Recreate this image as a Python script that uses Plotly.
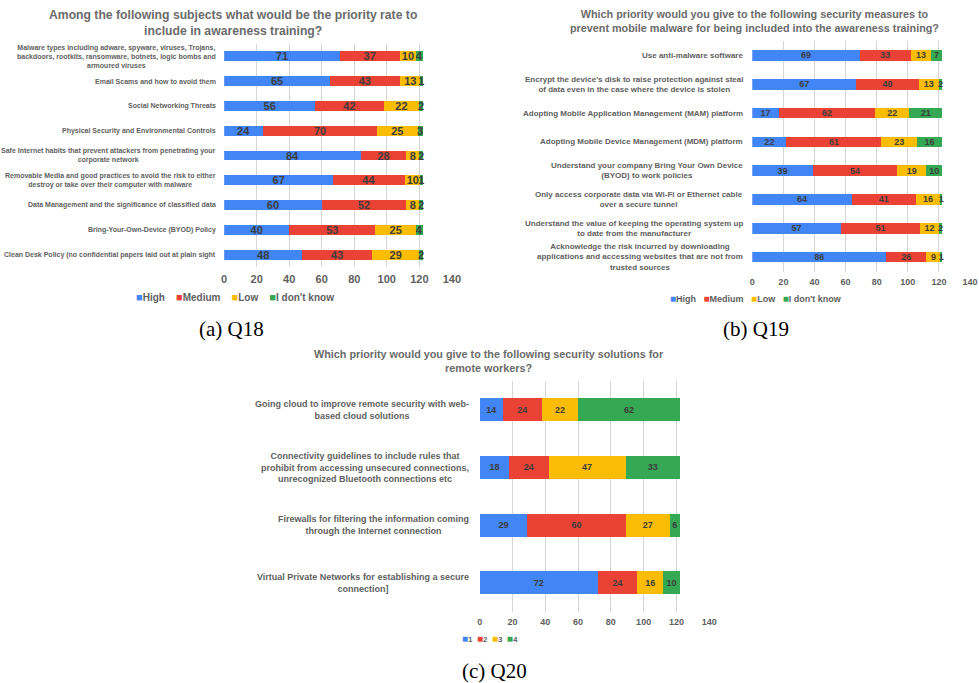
import plotly.graph_objects as go

# ---------------- data ----------------
q18_title = "Among the following subjects what would be the priority rate to<br>include in awareness training?"
q18_labels = [
    "Malware types including adware, spyware, viruses, Trojans,<br>backdoors, rootkits, ransomware, botnets, logic bombs and<br>armoured viruses",
    "Email Scams and how to avoid them",
    "Social Networking Threats",
    "Physical Security and Environmental Controls",
    "Safe Internet habits that prevent attackers from penetrating your<br>corporate network",
    "Removable Media and good practices to avoid the risk to either<br>destroy or take over their computer with malware",
    "Data Management and the significance of classified data",
    "Bring-Your-Own-Device (BYOD) Policy",
    "Clean Desk Policy (no confidential papers laid out at plain sight",
]
q18_series = ["High", "Medium", "Low", "I don't know"]
q18_high = [71, 65, 56, 24, 84, 67, 60, 40, 48]
q18_medium = [37, 43, 42, 70, 28, 44, 52, 53, 43]
q18_low = [10, 13, 22, 25, 8, 10, 8, 25, 29]
q18_idk = [4, 1, 2, 3, 2, 1, 2, 4, 2]

q19_title = "Which priority would you give to the following security measures to<br>prevent mobile malware for being included into the awareness training?"
q19_labels = [
    "Use anti-malware software",
    "Encrypt the device's disk to raise protection against steal<br>of data even in the case where the device is stolen",
    "Adopting Mobile Application Management (MAM) platform",
    "Adopting Mobile Device Management (MDM) platform",
    "Understand your company Bring Your Own Device<br>(BYOD) to work policies",
    "Only access corporate data via Wi-Fi or Ethernet cable<br>over a secure tunnel",
    "Understand the value of keeping the operating system up<br>to date from the manufacturer",
    "Acknowledge the risk incurred by downloading<br>applications and accessing websites that are not from<br>trusted sources",
]
q19_series = ["High", "Medium", "Low", "I don't know"]
q19_high = [69, 67, 17, 22, 39, 64, 57, 86]
q19_medium = [33, 40, 62, 61, 54, 41, 51, 26]
q19_low = [13, 13, 22, 23, 19, 16, 12, 9]
q19_idk = [7, 2, 21, 16, 10, 1, 2, 1]

q20_title = "Which priority would you give to the following security solutions for<br>remote workers?"
q20_labels = [
    "Going cloud to improve remote security with web-<br>based cloud solutions",
    "Connectivity guidelines to include rules that<br>prohibit from accessing unsecured connections,<br>unrecognized Bluetooth connections etc",
    "Firewalls for filtering the information coming<br>through the Internet connection",
    "Virtual Private Networks for establishing a secure<br>connection]",
]
q20_series = ["1", "2", "3", "4"]
q20_s1 = [14, 18, 29, 72]
q20_s2 = [24, 24, 60, 24]
q20_s3 = [22, 47, 27, 16]
q20_s4 = [62, 33, 6, 10]

x_ticks = [0, 20, 40, 60, 80, 100, 120, 140]
captions = ["(a) Q18", "(b) Q19", "(c) Q20"]

# ---------------- style ----------------
W, H = 979, 683
COLORS = ["#4285F4", "#EA4335", "#FBBC04", "#34A853"]
FONT = "Arial, Liberation Sans, sans-serif"
LBL = "#5f5f5f"
TTL = "#6b6b6b"
VAL = "#3d3d3d"
XS, XB = 0.987, 3.0   # horizontal calibration of the photographed page

def px(x):
    return (x - XB) / XS / W

def py(y):
    return 1 - y / H

fig = go.Figure()

panels = [
    dict(labels=q18_labels, series=q18_series, vals=[q18_high, q18_medium, q18_low, q18_idk],
         xa="x", ya="y", width=0.4, vsize=11),
    dict(labels=q19_labels, series=q19_series, vals=[q19_high, q19_medium, q19_low, q19_idk],
         xa="x2", ya="y2", width=0.37, vsize=9),
    dict(labels=q20_labels, series=q20_series, vals=[q20_s1, q20_s2, q20_s3, q20_s4],
         xa="x3", ya="y3", width=0.4, vsize=9),
]

for p in panels:
    for i, (name, v) in enumerate(zip(p["series"], p["vals"])):
        fig.add_trace(go.Bar(
            x=v, y=p["labels"], orientation="h", name=name,
            xaxis=p["xa"], yaxis=p["ya"], width=p["width"],
            marker=dict(color=COLORS[i], line=dict(width=0)),
            text=[str(t) for t in v], textposition="inside", insidetextanchor="middle",
            constraintext="none", textangle=0,
            insidetextfont=dict(family=FONT, size=p["vsize"], color=VAL, weight="bold"),
            showlegend=False, hoverinfo="x+y",
        ))

def xaxis_cfg(d0, d1, anchor, tsize, standoff):
    return dict(domain=[px(d0), min(px(d1), 1.0)], anchor=anchor, range=[0, 140],
                tickvals=x_ticks, showgrid=True, gridcolor="#d6d6d6", gridwidth=1,
                zeroline=False, showline=False, ticks="", ticklabelstandoff=standoff,
                tickfont=dict(family=FONT, size=tsize, color=LBL, weight="bold"))

def yaxis_cfg(t, b, anchor, cats):
    n = len(cats)
    return dict(domain=[py(b), py(t)], anchor=anchor, type="category",
                categoryorder="array", categoryarray=cats, range=[n - 0.5, -0.5],
                showticklabels=False, showgrid=False, zeroline=False, showline=False, ticks="")

fig.update_layout(
    width=W, height=H, margin=dict(l=0, r=0, t=0, b=0),
    paper_bgcolor="white", plot_bgcolor="white", barmode="stack",
    showlegend=False,
    xaxis=xaxis_cfg(224, 451.5, "y", 11, 4),
    yaxis=yaxis_cfg(44, 267, "x", q18_labels),
    xaxis2=xaxis_cfg(751.7, 973.8, "y2", 9, 3),
    yaxis2=yaxis_cfg(41, 271.5, "x2", q19_labels),
    xaxis3=xaxis_cfg(479.3, 708.7, "y3", 9, 3),
    yaxis3=yaxis_cfg(381, 611.5, "x3", q20_labels),
)

ann = []
# category labels (centered multi-line, right aligned block)
for p, xr, fs in [(panels[0], 218, 7), (panels[1], 744, 8), (panels[2], 471, 9)]:
    for lab in p["labels"]:
        ann.append(dict(text=lab, x=px(xr), xref="paper", y=lab, yref=p["ya"],
                        xanchor="right", yanchor="middle", align="center", showarrow=False,
                        font=dict(family=FONT, size=fs, color=LBL, weight="bold")))

# titles
for t, cx, cy, fs in [(q18_title, 233, 23, 12.2), (q19_title, 754, 21, 10.8), (q20_title, 489, 361, 10.8)]:
    ann.append(dict(text=t, x=px(cx), y=py(cy), xref="paper", yref="paper",
                    xanchor="center", yanchor="middle", align="center", showarrow=False,
                    font=dict(family=FONT, size=fs, color=TTL, weight="bold")))

# legends
def legend_text(series, sq, gap):
    parts = []
    for c, s in zip(COLORS, series):
        parts.append(f"<span style='color:{c};font-size:{sq}px'>\u25A0</span>{s}")
    return ("\u00a0" * gap).join(parts)

for series, cx, cy, fs, sq, gap in [(q18_series, 234.5, 297, 10, 11, 4),
                                     (q19_series, 755.5, 298, 9, 10, 3),
                                     (q20_series, 490, 638, 8, 10, 2)]:
    ann.append(dict(text=legend_text(series, sq, gap), x=px(cx), y=py(cy), xref="paper", yref="paper",
                    xanchor="center", yanchor="middle", showarrow=False,
                    font=dict(family=FONT, size=fs, color=LBL, weight="bold")))

# captions
for c, cx, cy in zip(captions, [231.5, 755, 494], [329, 329, 671]):
    ann.append(dict(text=c, x=px(cx), y=py(cy), xref="paper", yref="paper",
                    xanchor="center", yanchor="middle", showarrow=False,
                    font=dict(family="Liberation Serif, Times New Roman, serif", size=21, color="black")))

fig.update_layout(annotations=ann)
fig.write_html("out.html", config={"displayModeBar": False},
               post_script="document.body.style.margin='0';document.body.style.overflow='hidden';")
